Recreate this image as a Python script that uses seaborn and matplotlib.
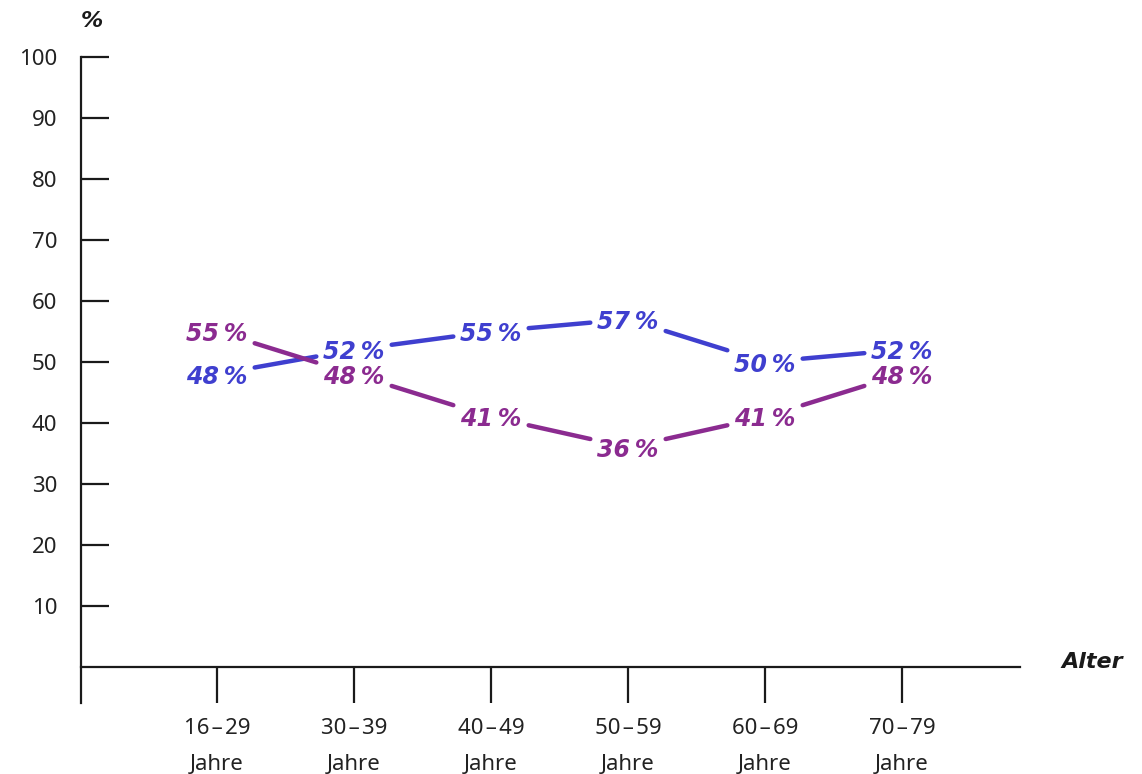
import numpy as np
import pandas as pd
import matplotlib
matplotlib.use("Agg")
import matplotlib.pyplot as plt
import seaborn as sns

# Age groups and shares (%) for the two series
age_groups = ["16\u200a–\u200a29\nJahre", "30\u200a–\u200a39\nJahre",
              "40\u200a–\u200a49\nJahre", "50\u200a–\u200a59\nJahre",
              "60\u200a–\u200a69\nJahre", "70\u200a–\u200a79\nJahre"]
series_a = [48, 52, 55, 57, 50, 52]
series_b = [55, 48, 41, 36, 41, 48]
y_ticks = [10, 20, 30, 40, 50, 60, 70, 80, 90, 100]

BLUE = "#3f3fcf"
PURPLE = "#8b2b90"
INK = "#1a1a1a"
FONT = ["Noto Sans", "DejaVu Sans"]
BOLD_FONT = ["DejaVu Sans"]

sns.set_theme(style="white")
plt.rcParams["font.family"] = FONT

fig = plt.figure(figsize=(11.42, 7.74), dpi=100)
ax = fig.add_axes([81 / 1142, 1 - 703 / 774, (1020 - 81) / 1142, (703 - 57) / 774])

# Line segments between neighbouring points, trimmed at both ends to leave
# room for the value labels
trim = 0.275
rows = []
for name, vals in (("A", series_a), ("B", series_b)):
    for i in range(len(vals) - 1):
        for t in (trim, 1 - trim):
            rows.append({
                "series": name,
                "seg": f"{name}{i}",
                "x": i + t,
                "y": vals[i] + (vals[i + 1] - vals[i]) * t,
            })
segs = pd.DataFrame(rows)

sns.lineplot(data=segs, x="x", y="y", hue="series", units="seg",
             estimator=None, palette={"A": BLUE, "B": PURPLE},
             linewidth=3.2, solid_capstyle="round", legend=False, ax=ax,
             sort=False)

# Value labels centred on each point
for vals, col in ((series_a, BLUE), (series_b, PURPLE)):
    for i, v in enumerate(vals):
        ax.text(i, v, f"{v}\u2009%", ha="center", va="center_baseline",
                color=col, fontsize=17, fontweight="bold",
                fontstyle="italic", family=BOLD_FONT)

ax.set_xlim((81 - 217) / 137, (1020 - 217) / 137)
ax.set_ylim(-(703 - 667) / 6.1, 100)

for s in ("top", "right"):
    ax.spines[s].set_visible(False)
ax.spines["bottom"].set_position(("data", 0))
for s in ("left", "bottom"):
    ax.spines[s].set_color(INK)
    ax.spines[s].set_linewidth(1.6)

ax.set_yticks(y_ticks)
ax.set_yticklabels([str(t) for t in y_ticks])
ax.set_xticks(range(len(age_groups)))
ax.set_xticklabels(age_groups, linespacing=1.9)

ax.tick_params(axis="y", direction="in", length=20, width=1.6, color=INK,
               pad=17, labelsize=16, labelcolor="#222222", left=True)
ax.tick_params(axis="x", direction="out", length=26, width=1.6, color=INK,
               pad=11, labelsize=16, labelcolor="#222222", bottom=True)
ax.set_xlabel("")
ax.set_ylabel("")
ax.grid(False)

fig.text(92 / 1142, 1 - 21 / 774, "%", ha="center", va="center",
         fontsize=16, fontweight="bold", fontstyle="italic", color=INK,
         family=BOLD_FONT)
fig.text(1092 / 1142, 1 - 662 / 774, "Alter", ha="center", va="center",
         fontsize=16, fontweight="bold", fontstyle="italic", color=INK,
         family=BOLD_FONT)

fig.savefig("out.png", dpi=100, facecolor="white")
